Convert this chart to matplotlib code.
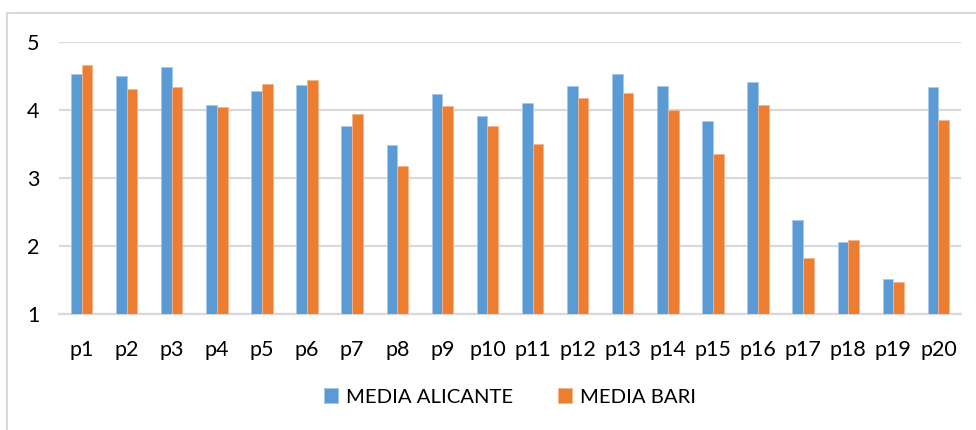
import matplotlib
matplotlib.use("Agg")
import matplotlib.pyplot as plt
from matplotlib.patches import Rectangle
import numpy as np

plt.rcParams['font.family'] = ['Lato', 'DejaVu Sans']

categories = ["p1", "p2", "p3", "p4", "p5", "p6", "p7", "p8", "p9", "p10",
              "p11", "p12", "p13", "p14", "p15", "p16", "p17", "p18", "p19", "p20"]
media_alicante = [4.53, 4.50, 4.63, 4.07, 4.28, 4.37, 3.76, 3.48, 4.23, 3.91,
                  4.11, 4.35, 4.53, 4.36, 3.84, 4.41, 2.38, 2.06, 1.51, 4.34]
media_bari = [4.66, 4.31, 4.34, 4.04, 4.38, 4.44, 3.94, 3.18, 4.06, 3.76,
              3.50, 4.18, 4.25, 4.00, 3.36, 4.08, 1.82, 2.09, 1.47, 3.86]
y_ticks = [1, 2, 3, 4, 5]

BLUE = "#5B9BD5"
ORANGE = "#ED7D31"
GRID = "#D9D9D9"

fig = plt.figure(figsize=(9.76, 4.30), dpi=100)
ax = fig.add_axes([59 / 976, 1 - 314 / 430, (961 - 59) / 976, (314 - 42) / 430])

x = np.arange(len(categories))
w = 0.237
ax.bar(x - w / 2, np.array(media_alicante) - 1, w, bottom=1, color=BLUE,
       edgecolor="#A9C8EA", linewidth=0.6, label="MEDIA ALICANTE", zorder=3)
ax.bar(x + w / 2, np.array(media_bari) - 1, w, bottom=1, color=ORANGE,
       edgecolor="#F5B48C", linewidth=0.6, label="MEDIA BARI", zorder=3)

ax.set_xlim(-0.5, len(categories) - 0.5)
ax.set_ylim(1, 5)
ax.set_yticks(y_ticks)
ax.set_xticks(x)
ax.set_xticklabels(categories)
ax.tick_params(axis="both", length=0, labelsize=15.5, colors="#000000")
ax.tick_params(axis="y", pad=14)
ax.tick_params(axis="x", pad=19)
ax.yaxis.grid(True, color=GRID, linewidth=1.6, zorder=0)
ax.set_axisbelow(True)
for s in ["top", "right", "left"]:
    ax.spines[s].set_visible(False)
ax.spines["bottom"].set_color(GRID)
ax.spines["bottom"].set_linewidth(1.6)

# light frame around the chart area
fig.patches.append(Rectangle((7 / 976, -0.1), 1.2, 1 - 13 / 430 + 0.1,
                             transform=fig.transFigure, fill=False,
                             edgecolor=GRID, linewidth=1.5))

fig.legend(loc="center", bbox_to_anchor=(510 / 976, 1 - 397 / 430), ncol=2,
           frameon=False, fontsize=14.6, handlelength=0.7, handleheight=0.7,
           handletextpad=0.4, columnspacing=2.2)

fig.savefig("out.png", dpi=100)
